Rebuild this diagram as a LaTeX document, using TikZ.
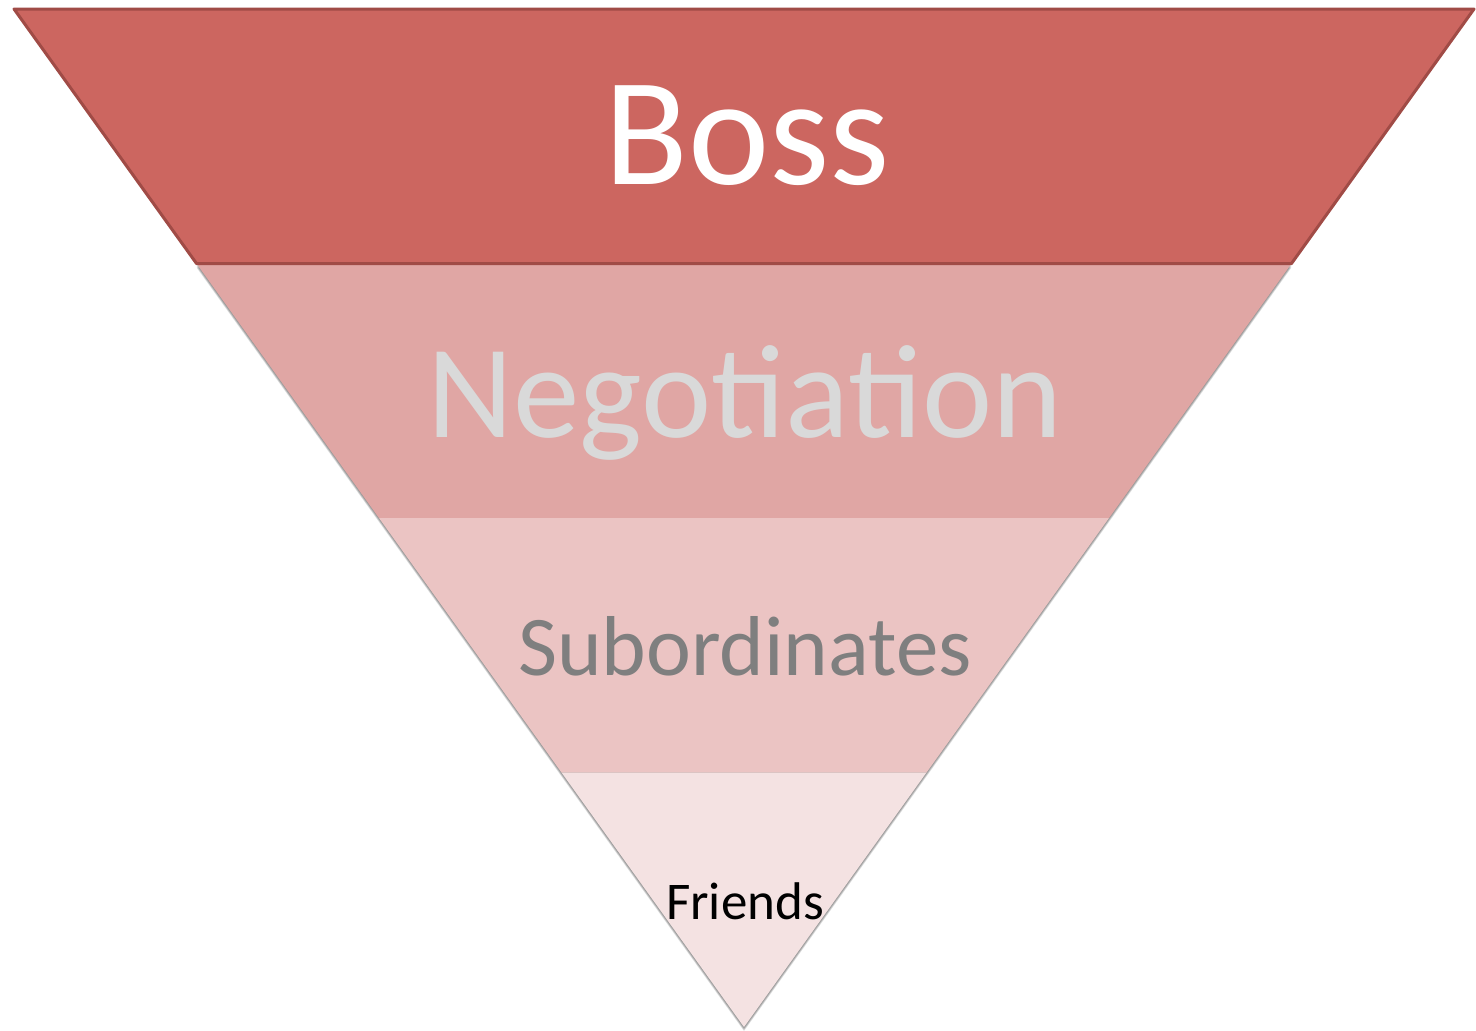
\documentclass[tikz,border=0pt]{standalone}
\usepackage{fontspec}
\setmainfont{Carlito}
\usetikzlibrary{calc}
\definecolor{bossred}{HTML}{CC6660}
\definecolor{bossedge}{HTML}{A04B46}
\definecolor{negpink}{HTML}{E0A6A4}
\definecolor{subpink}{HTML}{EBC4C3}
\definecolor{friendpink}{HTML}{F4E2E2}
\definecolor{negtext}{HTML}{D9D9D9}
\definecolor{subtext}{HTML}{7F7F7F}
\tikzset{
  layertext/.style={anchor=base, inner sep=0pt},
  softshadow/.style={fill=black, opacity=0.12}
}
\begin{document}
\begin{tikzpicture}[x=0.5pt,y=-0.5pt]
\useasboundingbox (0,0) rectangle (1476,1030);
\coordinate (tl) at (14,9);
\coordinate (tr) at (1474,9);
\coordinate (apex) at (744,1027);
\foreach \k in {1,2,3}{
  \coordinate (l\k) at ($(tl)!\k/4!(apex)$);
  \coordinate (r\k) at ($(tr)!\k/4!(apex)$);
}
\foreach \s in {0.5,1,1.5,2}
  \fill[softshadow] ([yshift=-\s pt]l1) -- ([yshift=-\s pt]r1) -- ([yshift=-\s pt]apex) -- cycle;
\fill[negpink] (l1) -- (r1) -- (r2) -- (l2) -- cycle;
\fill[subpink] (l2) -- (r2) -- (r3) -- (l3) -- cycle;
\fill[friendpink] (l3) -- (r3) -- (apex) -- cycle;
\filldraw[fill=bossred, draw=bossedge, line width=1.5pt, line join=round] (tl) -- (tr) -- (r1) -- (l1) -- cycle;
\node[layertext, text=white, font=\fontsize{77}{84}\selectfont] (boss) at (747,184) {Boss};
\node[layertext, text=negtext, font=\fontsize{66.5}{72}\selectfont] (negotiation) at (745,437) {Negotiation};
\node[layertext, text=subtext, font=\fontsize{42.5}{48}\selectfont] (subordinates) at (745,675) {Subordinates};
\node[layertext, text=black, font=\fontsize{26.5}{30}\selectfont] (friends) at (745,919) {Friends};
\end{tikzpicture}
\end{document}
